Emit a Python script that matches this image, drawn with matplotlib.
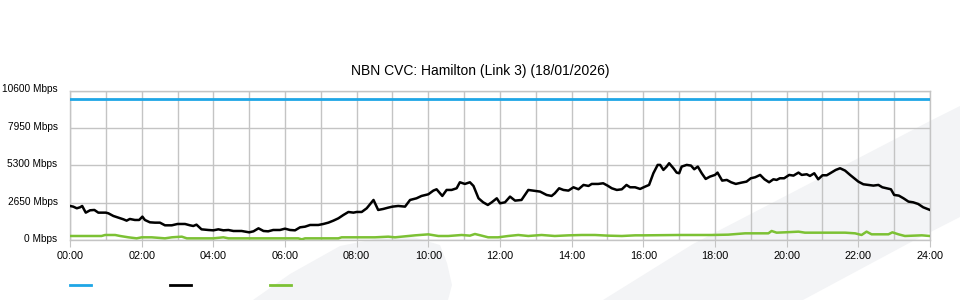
import matplotlib
matplotlib.use('Agg')
import matplotlib.pyplot as plt
import matplotlib.transforms as mtransforms
from matplotlib.patches import Polygon
from matplotlib.lines import Line2D

plt.rcParams['font.family'] = ['Liberation Sans', 'DejaVu Sans']

title = 'NBN CVC: Hamilton (Link 3) (18/01/2026)'

# capacity line (Mbps)
cap_hours = [0, 24]
cap_vals = [10000, 10000]

# main traffic (hours, Mbps)
traffic_hours = [0.00, 0.09, 0.19, 0.28, 0.34, 0.44, 0.56, 0.68, 0.79, 1.00, 1.07, 1.21, 1.35, 1.49,
                 1.58, 1.67, 1.81, 1.93, 2.02, 2.09, 2.23, 2.37, 2.51, 2.65, 2.84, 3.00, 3.21, 3.35,
                 3.44, 3.53, 3.67, 3.86, 4.00, 4.14, 4.28, 4.42, 4.56, 4.79, 5.00, 5.12, 5.26, 5.40,
                 5.53, 5.67, 5.86, 6.00, 6.14, 6.28, 6.42, 6.56, 6.70, 6.93, 7.07, 7.21, 7.35, 7.49,
                 7.63, 7.77, 7.91,
                 8.00, 8.14, 8.28, 8.47, 8.60, 8.74, 8.88, 9.00, 9.16, 9.35, 9.49, 9.67, 9.81, 10.00,
                 10.14, 10.23, 10.39, 10.51, 10.65, 10.79, 10.88, 11.02, 11.16, 11.26, 11.40, 11.53,
                 11.66, 11.77, 11.91, 12.00, 12.14, 12.28, 12.42, 12.60, 12.79, 12.98, 13.12, 13.30,
                 13.44, 13.53, 13.65, 13.77, 13.91, 14.05, 14.19, 14.33, 14.47, 14.56, 14.74, 14.88,
                 15.00, 15.12, 15.26, 15.40, 15.53, 15.63, 15.77, 15.91,
                 16.05, 16.16, 16.28, 16.40, 16.47, 16.56, 16.65, 16.72, 16.84, 16.93, 17.00, 17.07,
                 17.21, 17.33, 17.42, 17.52, 17.63, 17.74, 17.86, 18.00, 18.07, 18.20, 18.33, 18.45,
                 18.58, 18.74, 18.88, 19.00, 19.12, 19.26, 19.38, 19.51, 19.63, 19.72, 19.81, 19.93,
                 20.07, 20.19, 20.33, 20.42, 20.56, 20.65, 20.77, 20.88, 21.00, 21.12, 21.26, 21.37,
                 21.49, 21.63, 21.77, 21.91, 22.00, 22.14, 22.28, 22.42, 22.56, 22.67, 22.79, 22.91,
                 23.00, 23.13, 23.26, 23.40, 23.53, 23.67, 23.81, 24.00]
traffic_vals = [2413, 2366, 2248, 2319, 2413, 1940, 2106, 2130, 1940, 1940, 1893, 1704, 1585, 1467,
                1372, 1491, 1420, 1420, 1656, 1420, 1254, 1230, 1230, 1041, 1041, 1136, 1136, 1041,
                994, 1088, 757, 710, 686, 757, 686, 710, 639, 639, 544, 615, 828, 639,
                615, 710, 710, 804, 710, 686, 899, 946, 1065, 1065, 1136, 1230, 1372, 1538,
                1775, 1987, 1940,
                1987, 1987, 2248, 2839, 2130, 2200, 2295, 2366, 2413, 2366, 2839, 2957, 3123, 3241,
                3502, 3596, 3123, 3549, 3549, 3667, 4093, 3975, 4093, 3833, 2957, 2673,
                2484, 2673, 2957, 2602, 2673, 3076, 2792, 2839, 3549, 3478, 3431, 3194,
                3123, 3312, 3667, 3549, 3502, 3738, 3596, 3904, 3833, 3975, 3975, 4022,
                3857, 3667, 3549, 3596, 3904, 3738, 3738, 3620,
                3786, 3904, 4732, 5324, 5324, 4969, 5205, 5442, 5087, 4779, 4732, 5205,
                5324, 5276, 5016, 5205, 4732, 4329, 4495, 4614, 4779, 4211, 4259, 4093,
                3975, 4069, 4140, 4377, 4448, 4614, 4306, 4093, 4306, 4259, 4377, 4377,
                4614, 4566, 4779, 4614, 4661, 4543, 4732, 4306, 4590, 4590, 4803, 4969,
                5087, 4921, 4614, 4329, 4140, 3951, 3904, 3857, 3904, 3738, 3667, 3596,
                3194, 3147, 2957, 2721, 2673, 2555, 2319, 2130]

# second (low) traffic series
low_hours = [0.00, 0.88, 0.98, 1.26, 1.40, 1.63, 1.86, 2.00, 2.28, 2.65, 2.84, 3.12, 3.26, 3.58,
             4.00, 4.28, 4.42, 6.37, 6.47, 6.56, 7.49, 7.58,
             8.00, 8.51, 8.88, 9.07, 9.63, 10.00, 10.28, 10.56, 10.93, 11.16, 11.30, 11.49, 11.67,
             11.95, 12.23, 12.51, 12.79, 13.16, 13.53, 13.91, 14.28, 14.65, 15.02, 15.40, 15.77,
             16.05, 16.98, 17.91, 18.37, 18.84, 19.49, 19.58, 19.72, 19.95, 20.33, 20.51, 20.98,
             21.63, 21.91, 22.09, 22.23, 22.37, 22.84, 22.95, 23.12, 23.30, 23.77, 24.00]
low_vals = [284, 284, 355, 355, 284, 190, 118, 190, 190, 118, 190, 237, 118, 118,
            118, 190, 118, 118, 47, 118, 118, 190,
            190, 190, 237, 190, 330, 400, 284, 284, 355, 308, 426, 308, 190,
            190, 284, 355, 284, 355, 284, 330, 355, 355, 308, 284, 330,
            331, 355, 355, 379, 473, 473, 639, 520, 544, 592, 520, 520,
            520, 473, 355, 592, 403, 403, 544, 403, 284, 331, 284]

y_ticks = [0, 2650, 5300, 7950, 10600]
x_major = list(range(0, 25, 2))
x_minor = list(range(0, 25))

blue = '#1ea6e6'
green = '#7cc134'
grid_col = '#c4c4c4'

fig = plt.figure(figsize=(9.6, 3.0), dpi=100)
W, H = 960.0, 300.0

# decorative background swooshes (pixel coords -> fig coords)
swoosh1 = [(603, 300), (693, 244), (930, 121), (960, 106), (960, 217), (913, 241), (803, 300)]
swoosh2 = [(253, 300), (290, 274), (340, 246), (380, 238), (413, 237), (440, 245), (447, 263),
           (452, 285), (448, 300)]
for shp in (swoosh1, swoosh2):
    pts = [(x / W, 1 - y / H) for x, y in shp]
    fig.add_artist(Polygon(pts, closed=True, transform=fig.transFigure,
                           facecolor='#f3f4f6', edgecolor='none', zorder=0))

ax = fig.add_axes([70 / W, 60 / H, 860 / W, 149.5 / H])
ax.patch.set_alpha(0)

ax.plot(cap_hours, cap_vals, color=blue, lw=2, zorder=3)
ax.plot(traffic_hours, traffic_vals, color='black', lw=1.8, zorder=4)
ax.plot(low_hours, low_vals, color=green, lw=1.8, zorder=3)

ax.set_xlim(0, 24)
ax.set_ylim(0, 10600)
ax.set_yticks(y_ticks)
ax.set_yticklabels(['%d Mbps' % v for v in y_ticks])
ax.set_xticks(x_major)
ax.set_xticklabels(['%02d:00' % h for h in x_major])
ax.set_xticks(x_minor, minor=True)
ax.tick_params(axis='x', which='major', length=5, color=grid_col, labelsize=7.8, pad=3)
ax.tick_params(axis='x', which='minor', length=0)
ax.tick_params(axis='y', length=0, labelsize=7.3, pad=9)
# y labels sit a couple of pixels above their gridlines
shift = mtransforms.ScaledTranslation(0, 2 / 100, fig.dpi_scale_trans)
for lbl in ax.get_yticklabels():
    lbl.set_transform(lbl.get_transform() + shift)
ax.grid(True, which='both', axis='x', color=grid_col, lw=1)
ax.grid(True, which='major', axis='y', color=grid_col, lw=1)
for s in ax.spines.values():
    s.set_color(grid_col)
    s.set_linewidth(1)

fig.text(0.5, 1 - 71.5 / H, title, ha='center', va='center', fontsize=10)

# legend markers (no labels in the reference)
for x0, c in [(70, blue), (170, 'black'), (270, green)]:
    fig.add_artist(Line2D([x0 / W, (x0 + 21) / W], [1 - 285 / H, 1 - 285 / H],
                          transform=fig.transFigure, color=c, lw=2))

fig.savefig('out.png', dpi=100)
